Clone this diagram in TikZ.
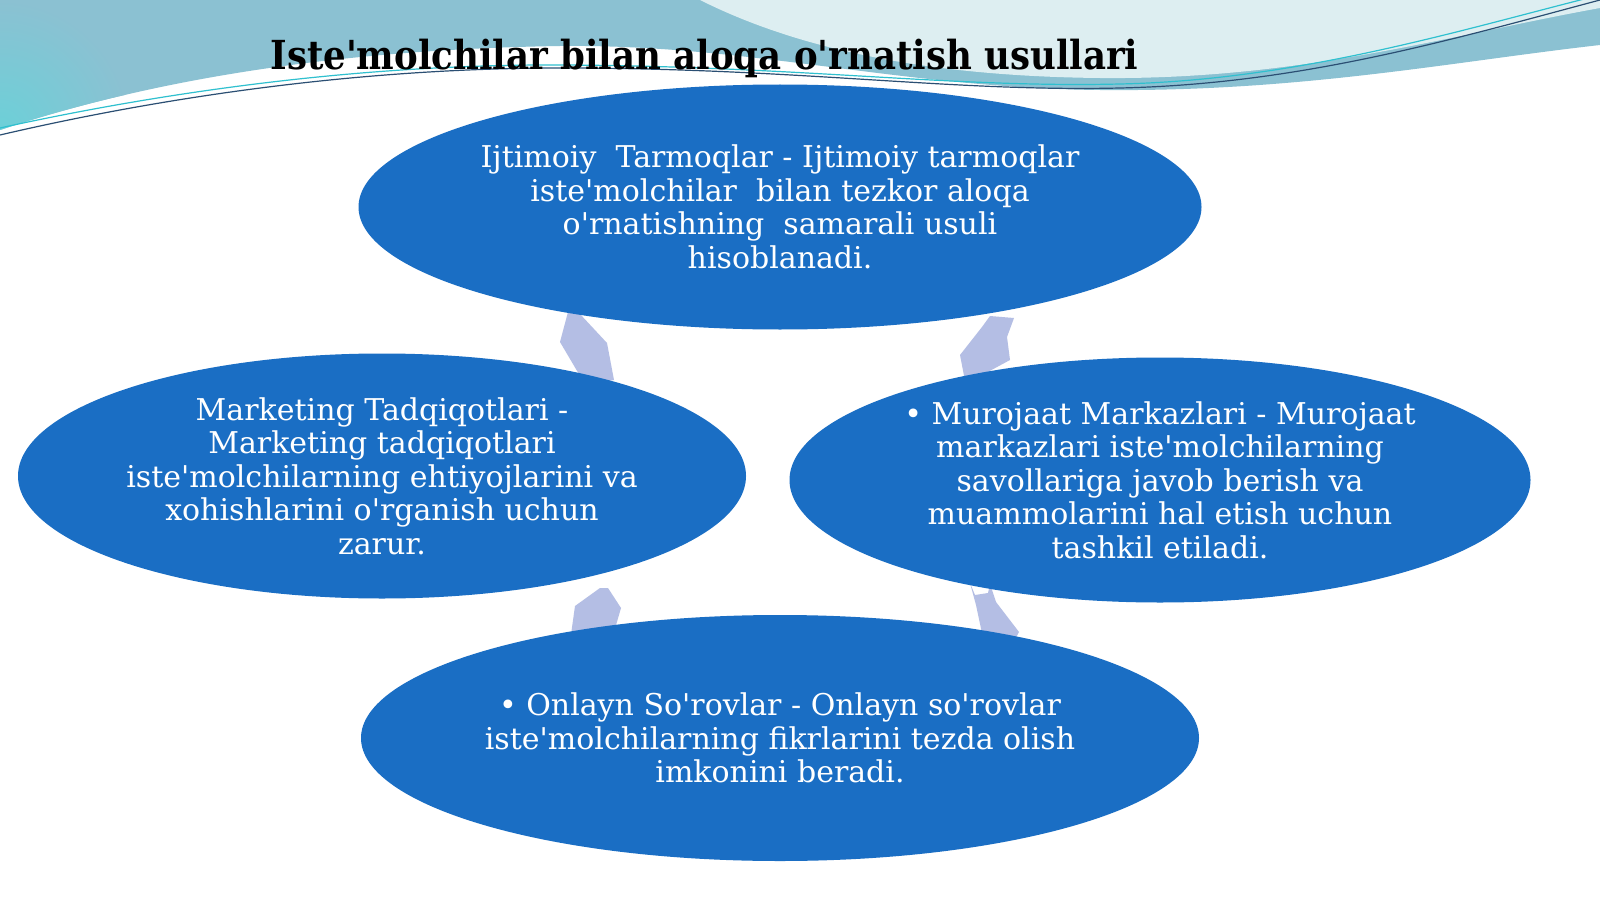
\documentclass[tikz,border=0pt]{standalone}
\usepackage{fontspec}
\setmainfont{DejaVu Serif}[Ligatures=TeXOff]
\usetikzlibrary{shapes.geometric}
\definecolor{ellblue}{HTML}{1A6EC4}
\definecolor{arrowlav}{HTML}{B4BEE4}
\definecolor{tealA}{HTML}{8BC1D2}
\definecolor{cyanA}{HTML}{6CD0D8}
\definecolor{lightA}{HTML}{DDEEF1}
\definecolor{lineDark}{HTML}{2B4F73}
\definecolor{lineCyan}{HTML}{2FC0CF}
\begin{document}
\begin{tikzpicture}[x=0.5pt,y=-0.5pt,
  blob/.style={ellipse, fill=ellblue, inner sep=0pt, draw=none},
  blobtext/.style={inner sep=0pt, text=white, align=center, font=\fontsize{15pt}{16.75pt}\selectfont},
  cyc/.style={fill=arrowlav},
  titletext/.style={inner sep=0pt, anchor=base west, text=black}]
\useasboundingbox (0,0) rectangle (1600,899);
\fill[white] (0,0) rectangle (1600,899);
% background swoosh
\fill[tealA] (0,0) -- (0,130) .. controls (120,90) and (300,50) .. (560,46)
  .. controls (750,44) and (900,88) .. (1100,90) .. controls (1300,92) and (1450,62) .. (1600,45)
  -- (1600,0) -- cycle;
\begin{scope}
  \clip (0,0) -- (0,130) .. controls (120,90) and (300,50) .. (560,46) -- (560,0) -- cycle;
  \shade[inner color=cyanA, outer color=tealA] (0,130) circle[radius=130];
\end{scope}
\fill[lightA] (700,0) .. controls (780,40) and (900,76) .. (1100,78)
  .. controls (1300,80) and (1450,35) .. (1600,8) -- (1600,0) -- cycle;
\draw[lineCyan, line width=0.6pt] (0,128) .. controls (150,95) and (350,64) .. (560,65)
  .. controls (800,66) and (950,88) .. (1120,84) .. controls (1300,80) and (1460,30) .. (1600,-5);
\draw[lineDark, line width=0.6pt] (0,135) .. controls (150,100) and (350,68) .. (560,68)
  .. controls (800,68) and (950,92) .. (1120,88) .. controls (1300,84) and (1450,40) .. (1600,0);
% title
\node[titletext] (title) at (270,70) {\resizebox{434pt}{\height}{\fontsize{20pt}{24pt}\selectfont\bfseries Iste'molchilar bilan aloqa o'rnatish usullari}};
% cycle arrows (behind the ellipses)
\fill[cyc] (568,312) -- (580,314) -- (607,343) -- (614,380) -- (590,384) -- (583,381) -- (560,342) -- cycle;
\fill[cyc] (990,316) -- (1014,318) -- (1007,337) -- (1010,360) -- (973,380) -- (966,386) -- (960,355) -- (982,327) -- cycle;
\fill[cyc] (600,588) -- (608,588) -- (621,608) -- (614,632) -- (594,652) -- (573,650) -- (568,656) -- (575,606) -- cycle;
\fill[cyc] (970,583) -- (975,595) -- (988,593) -- (990,584) -- (996,602) -- (1019,632) -- (1012,645) -- (983,638) -- (976,605) -- cycle;
% ellipses
\node[blob, minimum width=421.5pt, minimum height=122.5pt] (top) at (780,207) {};
\node[blob, minimum width=364pt, minimum height=122.5pt] (left) at (382,476) {};
\node[blob, minimum width=370.5pt, minimum height=122.5pt] (right) at (1160,480) {};
\node[blob, minimum width=419pt, minimum height=123pt] (bottom) at (780,738) {};
% texts
\node[blobtext] (ttop) at (top.center) {Ijtimoiy\ \ Tarmoqlar - Ijtimoiy tarmoqlar\\ iste'molchilar\ \ bilan tezkor aloqa\\ o'rnatishning\ \ samarali usuli\\ hisoblanadi.};
\node[blobtext] (tleft) at (left.center) {Marketing Tadqiqotlari -\\ Marketing tadqiqotlari\\ iste'molchilarning ehtiyojlarini va\\ xohishlarini o'rganish uchun\\ zarur.};
\node[blobtext] (tright) at (right.center) {• Murojaat Markazlari - Murojaat\\ markazlari iste'molchilarning\\ savollariga javob berish va\\ muammolarini hal etish uchun\\ tashkil etiladi.};
\node[blobtext] (tbottom) at (bottom.center) {• Onlayn So'rovlar - Onlayn so'rovlar\\ iste'molchilarning fikrlarini tezda olish\\ imkonini beradi.};
\end{tikzpicture}
\end{document}
